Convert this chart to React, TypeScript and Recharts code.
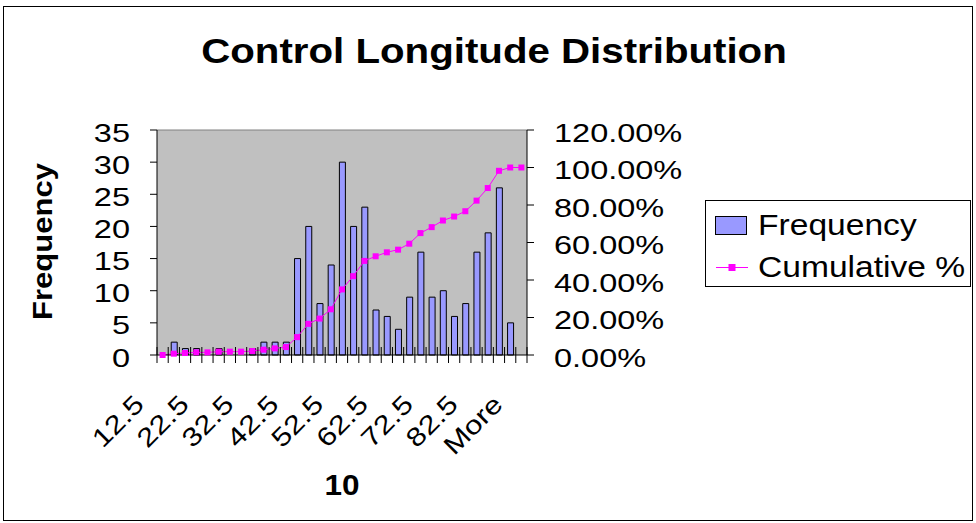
import React from "react";
import { ComposedChart, Bar, Line, XAxis, YAxis, CartesianGrid, ReferenceLine } from "recharts";

// histogram bins (upper edge) as shown on the category axis
const bins = [
  "12.5", "15", "17.5", "20", "22.5", "25", "27.5", "30", "32.5", "35", "37.5",
  "40", "42.5", "45", "47.5", "50", "52.5", "55", "57.5", "60", "62.5", "65",
  "67.5", "70", "72.5", "75", "77.5", "80", "82.5", "85", "87.5", "90", "More",
];
const frequency = [
  0, 2, 1, 1, 0, 1, 0, 0, 1, 2, 2,
  2, 15, 20, 8, 14, 30, 20, 23, 7, 6, 4,
  9, 16, 9, 10, 6, 8, 16, 19, 26, 5, 0,
];
// cumulative %
const cumulative = [
  0, 0.71, 1.06, 1.41, 1.41, 1.77, 1.77, 1.77, 2.12, 2.83, 3.53,
  4.24, 9.54, 16.61, 19.43, 24.38, 34.98, 42.05, 50.18, 52.65, 54.77, 56.18,
  59.36, 65.02, 68.2, 71.73, 73.85, 76.68, 82.33, 89.05, 98.23, 100, 100,
];
const freqTicks = [0, 5, 10, 15, 20, 25, 30, 35];
const pctTicks = [0, 20, 40, 60, 80, 100, 120];

const rows = bins.map((bin, i) => ({ bin, frequency: frequency[i], cumulative: cumulative[i] }));

const FONT = '"Liberation Sans", Arial, sans-serif';
const W = 976;
const H = 523;
const PLOT_LEFT = 157;
const PLOT_RIGHT = 527;
const PLOT_TOP = 130;
const PLOT_BOTTOM = 355;
const BAND = (PLOT_RIGHT - PLOT_LEFT) / bins.length;

function BinTick(props: any) {
  const { x, y, index, payload } = props;
  const i = typeof index === "number" ? index : payload?.index ?? 0;
  const left = x - BAND / 2;
  return (
    <g>
      <line x1={left} x2={left} y1={y - 8} y2={y + 8} stroke="#000" strokeWidth={1} />
      {i === bins.length - 1 && (
        <line x1={x + BAND / 2} x2={x + BAND / 2} y1={y - 8} y2={y + 8} stroke="#000" strokeWidth={1} />
      )}
      {i % 4 === 0 && (
        <text
          transform={`translate(${x - 17},${y + 51}) rotate(-45) scale(1.2,1)`}
          textAnchor="end"
          fontSize={26}
          fontFamily={FONT}
          fill="#000"
        >
          {payload.value}
        </text>
      )}
    </g>
  );
}

function FreqTick({ x, y, payload }: any) {
  return (
    <text transform={`translate(${x},${y + 11.5}) scale(1.3,1)`} textAnchor="end" fontSize={25} fontFamily={FONT} fill="#000">
      {payload.value}
    </text>
  );
}

function PctTick({ x, y, payload }: any) {
  return (
    <text transform={`translate(${x},${y + 11.5}) scale(1.3,1)`} textAnchor="start" fontSize={25} fontFamily={FONT} fill="#000">
      {`${Number(payload.value).toFixed(2)}%`}
    </text>
  );
}

function SquareDot(props: any) {
  const { cx, cy, index } = props;
  if (cx == null || cy == null) return <g key={index} />;
  return <rect key={index} x={cx - 3} y={cy - 3} width={6} height={6} fill="#FF00FF" />;
}

export default function App() {
  return (
    <div style={{ position: "absolute", left: 0, top: 0, width: W, height: H, background: "#fff", fontFamily: FONT }}>
      <ComposedChart
        width={W}
        height={H}
        data={rows}
        margin={{ top: PLOT_TOP, right: 0, bottom: 0, left: 0 }}
      >
        <CartesianGrid horizontal={false} vertical={false} fill="#C0C0C0" />
        <XAxis
          dataKey="bin"
          height={H - PLOT_BOTTOM}
          interval={0}
          tickSize={0}
          tickMargin={0}
          tickLine={false}
          axisLine={{ stroke: "#000" }}
          tick={<BinTick />}
        />
        <YAxis
          yAxisId="freq"
          width={PLOT_LEFT}
          domain={[0, 35]}
          ticks={freqTicks}
          interval={0}
          tickSize={7}
          tickMargin={20}
          tickLine={{ stroke: "#000" }}
          axisLine={{ stroke: "#000" }}
          tick={<FreqTick />}
        />
        <YAxis
          yAxisId="pct"
          orientation="right"
          width={W - PLOT_RIGHT}
          domain={[0, 120]}
          ticks={pctTicks}
          interval={0}
          tickSize={7}
          tickMargin={20}
          tickLine={{ stroke: "#000" }}
          axisLine={{ stroke: "#000" }}
          tick={<PctTick />}
        />
        <ReferenceLine yAxisId="freq" y={35} stroke="#808080" strokeWidth={1} />
        <Bar
          yAxisId="freq"
          dataKey="frequency"
          barSize={6}
          fill="#9999FF"
          stroke="#000"
          strokeWidth={1}
          isAnimationActive={false}
        />
        <Line
          yAxisId="pct"
          dataKey="cumulative"
          type="linear"
          stroke="#FF00FF"
          strokeWidth={1}
          dot={SquareDot}
          activeDot={false}
          isAnimationActive={false}
        />
      </ComposedChart>

      <svg width={W} height={H} style={{ position: "absolute", left: 0, top: 0, pointerEvents: "none" }}>
        <rect x={3.5} y={6.5} width={969} height={514} fill="none" stroke="#000" strokeWidth={1} />
        <text transform="translate(494,63) scale(1.15,1)" textAnchor="middle" fontSize={35} fontWeight="bold" fontFamily={FONT} fill="#000">
          Control Longitude Distribution
        </text>
        <text transform="translate(52,241.5) rotate(-90) scale(1.15,1)" textAnchor="middle" fontSize={27} fontWeight="bold" fontFamily={FONT} fill="#000">
          Frequency
        </text>
        <text transform="translate(342,495) scale(1.05,1)" textAnchor="middle" fontSize={30} fontWeight="bold" fontFamily={FONT} fill="#000">
          10
        </text>

        <rect x={705.5} y={200.5} width={265} height={86} fill="#fff" stroke="#000" strokeWidth={1} />
        <rect x={715.5} y={216.5} width={31} height={18} fill="#9999FF" stroke="#000" strokeWidth={1} />
        <text transform="translate(758,235) scale(1.12,1)" fontSize={30} fontFamily={FONT} fill="#000">
          Frequency
        </text>
        <line x1={716} x2={748} y1={267.5} y2={267.5} stroke="#FF00FF" strokeWidth={1} />
        <rect x={728.5} y={264} width={7} height={7} fill="#FF00FF" />
        <text transform="translate(758,277) scale(1.12,1)" fontSize={30} fontFamily={FONT} fill="#000">
          Cumulative %
        </text>
      </svg>
    </div>
  );
}
